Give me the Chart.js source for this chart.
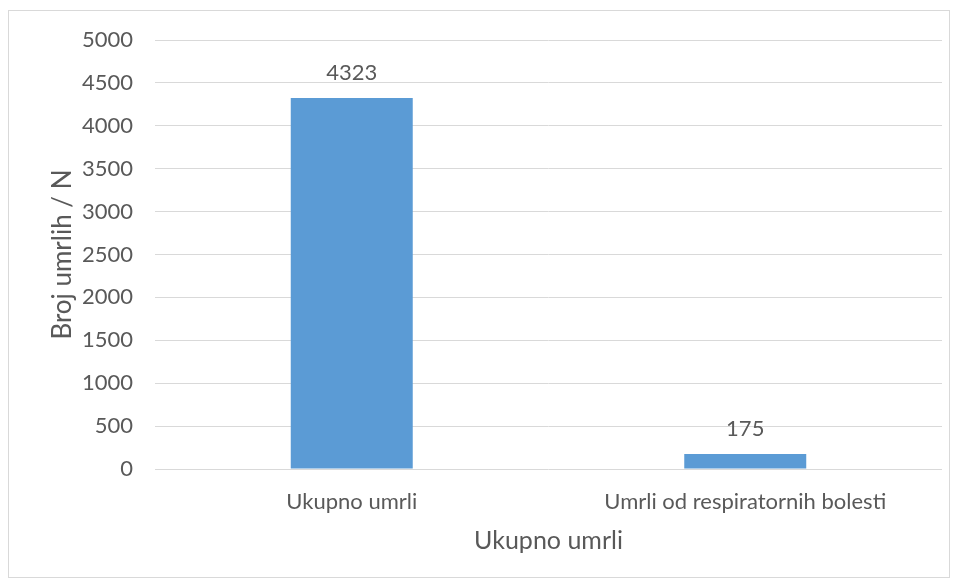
<!DOCTYPE html>
<html>
<head>
<meta charset="utf-8">
<script src="https://cdn.jsdelivr.net/npm/chart.js@4"></script>
<style>
  body { margin: 0; background: #fff; }
  .chart-box {
    position: absolute; left: 8px; top: 10px;
    width: 940px; height: 566px;
    border: 1px solid #d9d9d9;
  }
</style>
</head>
<body>
<div class="chart-box"><canvas id="chart" width="940" height="566"></canvas></div>
<script>
const categories = ['Ukupno umrli', 'Umrli od respiratornih bolesti'];
const deaths = [4323, 175];
const yTitle = 'Broj umrlih / N';
const xTitle = 'Ukupno umrli';

const textColor = '#595959';
const fontFamily = 'Lato, "Open Sans", sans-serif';

// value labels above each bar
const barLabels = {
  id: 'barLabels',
  afterDatasetsDraw(chart) {
    const { ctx } = chart;
    const meta = chart.getDatasetMeta(0);
    ctx.save();
    ctx.font = '22px ' + fontFamily;
    ctx.fillStyle = textColor;
    ctx.textAlign = 'center';
    ctx.textBaseline = 'middle';
    meta.data.forEach((bar, i) => {
      ctx.fillText(String(deaths[i]), bar.x, bar.y - 25);
    });
    ctx.restore();
  }
};

new Chart(document.getElementById('chart'), {
  type: 'bar',
  data: {
    labels: categories,
    datasets: [{
      data: deaths,
      backgroundColor: '#5b9bd5',
      categoryPercentage: 1,
      barPercentage: 0.31
    }]
  },
  options: {
    responsive: false,
    animation: false,
    layout: { padding: { top: 29, right: 7, left: 0, bottom: 0 } },
    plugins: {
      legend: { display: false },
      tooltip: { enabled: false }
    },
    scales: {
      x: {
        grid: { display: false, drawTicks: false },
        border: { display: false },
        ticks: { color: textColor, font: { size: 22, family: fontFamily }, padding: 20 },
        title: {
          display: true, text: xTitle, color: textColor,
          font: { size: 25, family: fontFamily }, padding: { bottom: 21 }
        },
        afterFit(scale) {
          scale.height = 108;
          scale.paddingLeft = 0;
          scale.paddingRight = 0;
        }
      },
      y: {
        min: 0, max: 5000,
        grid: { color: '#d9d9d9', lineWidth: 1, drawTicks: false },
        border: { display: false },
        ticks: {
          stepSize: 500, color: textColor, font: { size: 22, family: fontFamily }, padding: 22,
          callback: v => String(v)
        },
        title: {
          display: true, text: yTitle, color: textColor,
          font: { size: 26, family: fontFamily }, padding: { top: 38 }
        },
        afterFit(scale) {
          scale.width = 146;
          scale.paddingTop = 0;
          scale.paddingBottom = 0;
        }
      }
    }
  },
  plugins: [barLabels]
});
</script>
</body>
</html>
